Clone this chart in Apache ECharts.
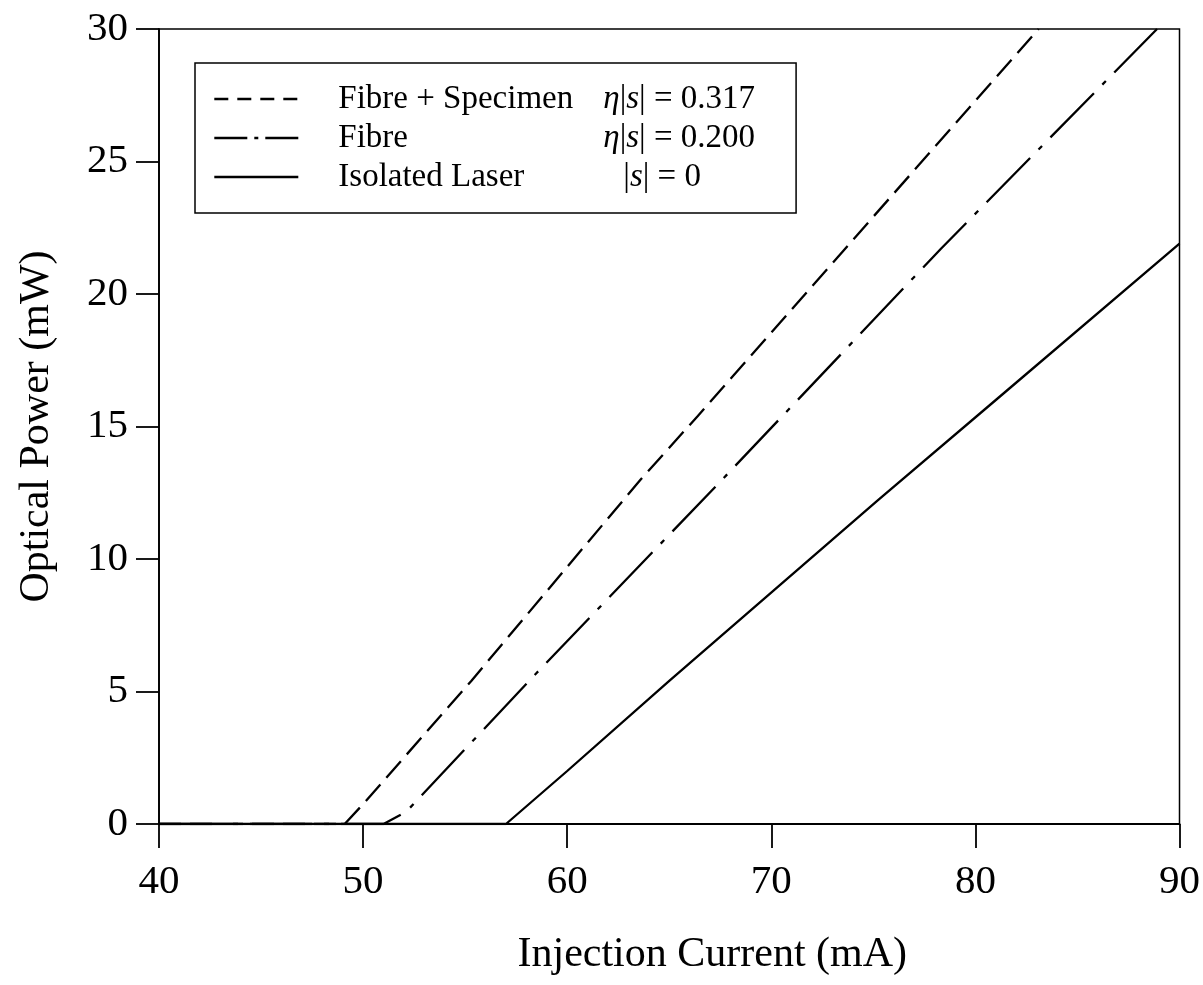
<!DOCTYPE html>
<html>
<head>
<meta charset="utf-8">
<script src="https://cdn.jsdelivr.net/npm/echarts@6/dist/echarts.min.js"></script>
<style>
html,body{margin:0;padding:0;background:#fff;}
#c{width:1203px;height:985px;}
</style>
</head>
<body>
<div id="c"></div>
<script>
// Injection current (mA) and optical power (mW)
const specimenX = [40, 49.1, 50, 55.3, 63.6, 66.4, 83.1];
const specimenY = [0, 0, 0.75, 5.4, 13.0, 15.4, 30];
const fibreX = [40, 51, 52.1, 58.5, 67.6, 78.3, 88.9];
const fibreY = [0, 0, 0.45, 5.7, 13.0, 21.7, 30];
const laserX = [40, 57, 60, 65, 75.2, 81, 90];
const laserY = [0, 0, 2.0, 5.4, 12.2, 16.0, 21.9];
const seriesNames = ['Fibre + Specimen', 'Fibre', 'Isolated Laser'];
const seriesFormulas = ['{i|η}{r||}{i|s}{r|| = 0.317}', '{i|η}{r||}{i|s}{r|| = 0.200}', '{p|}{r||}{i|s}{r|| = 0}'];
const xTicks = [40, 50, 60, 70, 80, 90];
const yTicks = [0, 5, 10, 15, 20, 25, 30];

const FONT = 'Liberation Serif';
const LF = 33;
const zip = (xs, ys) => xs.map((x, i) => [x, ys[i]]);

const chart = echarts.init(document.getElementById('c'), null, {renderer: 'canvas'});
chart.setOption({
  backgroundColor: '#fff',
  animation: false,
  color: ['#000', '#000', '#000'],
  grid: {left: 159, right: 21, top: 29, bottom: 161, show: true, borderColor: '#000', borderWidth: 1.5, backgroundColor: 'transparent'},
  xAxis: {
    type: 'value', min: xTicks[0], max: xTicks[xTicks.length - 1], interval: 10,
    name: 'Injection Current (mA)', nameLocation: 'middle', nameGap: 110,
    nameTextStyle: {fontFamily: FONT, fontSize: 42, color: '#000', padding: [0, 0, 0, 86]},
    axisLine: {onZero: false, lineStyle: {color: '#000', width: 1.8}},
    axisTick: {show: true, inside: false, length: 24, lineStyle: {color: '#000', width: 1.8}},
    axisLabel: {fontFamily: FONT, fontSize: 41, color: '#000', margin: 38, formatter: v => String(v)},
    splitLine: {show: false}
  },
  yAxis: {
    type: 'value', min: yTicks[0], max: yTicks[yTicks.length - 1], interval: 5,
    name: 'Optical Power (mW)', nameLocation: 'middle', nameGap: 101, nameRotate: 90,
    nameTextStyle: {fontFamily: FONT, fontSize: 42, color: '#000'},
    axisLine: {show: true, lineStyle: {color: '#000', width: 1.8}},
    axisTick: {show: true, inside: false, length: 23, lineStyle: {color: '#000', width: 1.8}},
    axisLabel: {fontFamily: FONT, fontSize: 41, color: '#000', margin: 31},
    splitLine: {show: false}
  },
  legend: {
    orient: 'vertical', left: 195, top: 63,
    padding: [19, 41, 19, 18],
    backgroundColor: '#fff',
    borderColor: '#000', borderWidth: 1.5,
    itemWidth: 84, itemHeight: 14, itemGap: 5,
    selectedMode: false,
    itemStyle: {opacity: 0},
    data: [
      {name: seriesNames[0], itemStyle: {opacity: 0}, lineStyle: {type: [14, 9], width: 2.6, color: '#000'}},
      {name: seriesNames[1], itemStyle: {opacity: 0}, lineStyle: {type: [33, 7, 4, 7], width: 2.6, color: '#000'}},
      {name: seriesNames[2], itemStyle: {opacity: 0}, lineStyle: {type: 'solid', width: 2.6, color: '#000'}}
    ],
    formatter: function (name) {
      const k = seriesNames.indexOf(name);
      return '{g|}{n|' + name + '}' + seriesFormulas[k];
    },
    textStyle: {
      fontFamily: FONT, fontSize: LF, color: '#000', lineHeight: 34,
      rich: {
        g: {width: 35},
        n: {width: 265, fontFamily: FONT, fontSize: LF, color: '#000'},
        i: {fontStyle: 'italic', fontFamily: FONT, fontSize: LF, color: '#000'},
        r: {fontFamily: FONT, fontSize: LF, color: '#000'},
        p: {width: 20}
      }
    }
  },
  series: [
    {name: seriesNames[0], type: 'line', data: zip(specimenX, specimenY), symbol: 'none', clip: true,
     lineStyle: {color: '#000', width: 2.3, type: [22, 9]}, z: 3},
    {name: seriesNames[1], type: 'line', data: zip(fibreX, fibreY), symbol: 'none', clip: true,
     lineStyle: {color: '#000', width: 2.3, type: [62, 12, 5, 12]}, z: 3},
    {name: seriesNames[2], type: 'line', data: zip(laserX, laserY), symbol: 'none', clip: true,
     lineStyle: {color: '#000', width: 2.3, type: 'solid'}, z: 3}
  ]
});
</script>
</body>
</html>
